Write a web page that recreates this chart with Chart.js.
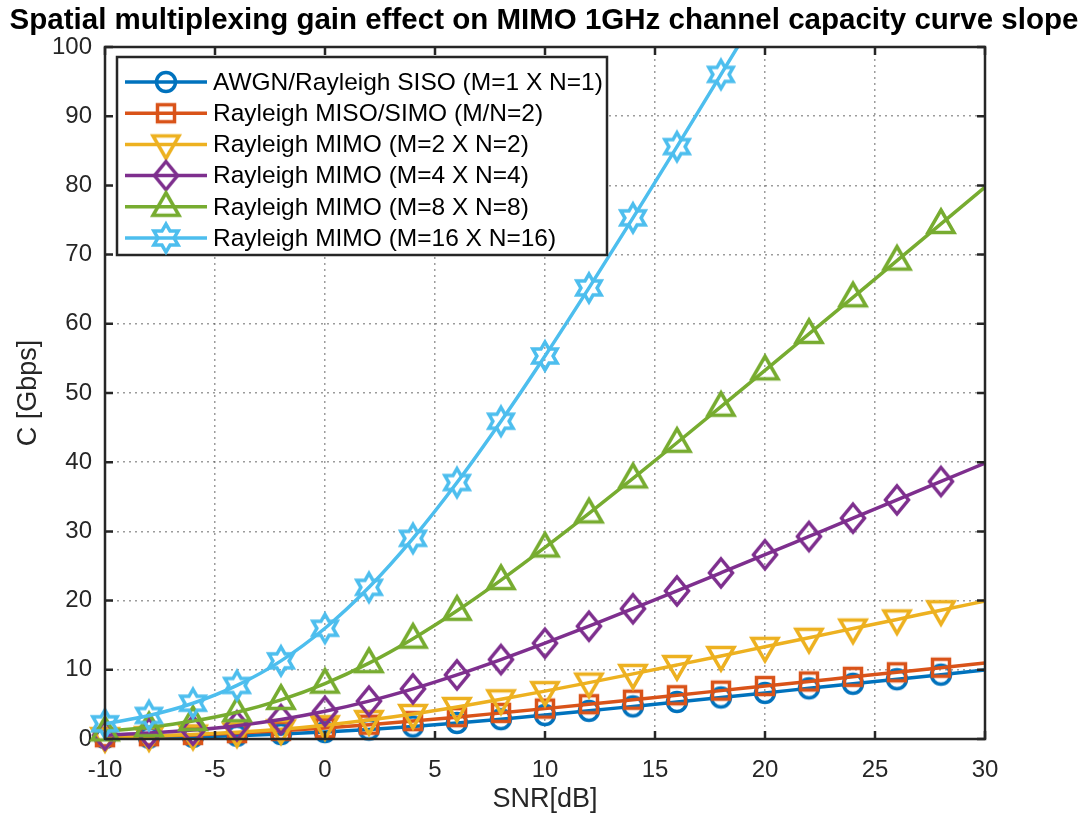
<!DOCTYPE html>
<html><head><meta charset="utf-8">
<script src="https://cdn.jsdelivr.net/npm/chart.js@4/dist/chart.umd.min.js"></script>
<style>html,body{margin:0;padding:0;background:#fff}canvas{display:block}</style>
</head><body>
<canvas id="c" width="1088" height="823"></canvas>
<script>
// ---- data ----
const snrDb = [-10,-8,-6,-4,-2,0,2,4,6,8,10,12,14,16,18,20,22,24,26,28,30];
const siso   = [0.14,0.21,0.32,0.48,0.71,1.00,1.37,1.81,2.32,2.87,3.46,4.07,4.71,5.35,6.00,6.66,7.32,7.98,8.64,9.30,9.97];
const misoSimo = [0.26,0.40,0.59,0.85,1.18,1.58,2.06,2.59,3.16,3.77,4.39,5.03,5.68,6.33,6.99,7.65,8.31,8.98,9.64,10.30,10.97];
const mimo2  = [0.28,0.42,0.65,0.97,1.41,2.00,2.74,3.62,4.63,5.74,6.92,8.15,9.41,10.70,12.00,13.32,14.63,15.96,17.28,18.61,19.93];
const mimo4  = [0.55,0.85,1.29,1.93,2.82,4.00,5.48,7.25,9.27,11.48,13.84,16.30,18.83,21.40,24.01,26.63,29.27,31.91,34.56,37.22,39.87];
const mimo8  = [1.10,1.70,2.59,3.87,5.65,8.00,10.96,14.50,18.53,22.96,27.68,32.60,37.66,42.81,48.02,53.27,58.54,63.83,69.13,74.43,79.74];
const mimo16 = [2.20,3.40,5.17,7.74,11.29,16.00,21.92,29.00,37.06,45.92,55.35,65.19,75.31,85.61,96.04,106.53];
const seriesNames = [
  'AWGN/Rayleigh SISO (M=1 X N=1)',
  'Rayleigh MISO/SIMO (M/N=2)',
  'Rayleigh MIMO (M=2 X N=2)',
  'Rayleigh MIMO (M=4 X N=4)',
  'Rayleigh MIMO (M=8 X N=8)',
  'Rayleigh MIMO (M=16 X N=16)'
];
const xTickValues = [-10,-5,0,5,10,15,20,25,30];
const yTickValues = [0,10,20,30,40,50,60,70,80,90,100];
const titleText = 'Spatial multiplexing gain effect on MIMO 1GHz channel capacity curve slope';
const xTitle = 'SNR[dB]';
const yTitle = 'C [Gbps]';

// ---- styles ----
const FONT = "'Liberation Sans', Arial, Helvetica, sans-serif";
const colors = ['#0072BD','#D95319','#EDB120','#7E2F8E','#77AC30','#4DBEEE'];
const shapes = ['circle','square','triDown','diamond','triUp','hexagram'];

function makeMarker(shape, color){
  const c = document.createElement('canvas');
  c.width = 40; c.height = 40;
  const g = c.getContext('2d');
  g.translate(20,20);
  g.strokeStyle = color; g.lineWidth = 3.5; g.lineJoin = 'miter';
  g.beginPath();
  if (shape==='circle') g.arc(0,0,9.5,0,Math.PI*2);
  else if (shape==='square') g.rect(-8.5,-8.5,17,17);
  else if (shape==='triDown'){ g.moveTo(-13,-8.5); g.lineTo(13,-8.5); g.lineTo(0,14); g.closePath(); }
  else if (shape==='triUp'){ g.moveTo(0,-14); g.lineTo(13,8.5); g.lineTo(-13,8.5); g.closePath(); }
  else if (shape==='diamond'){ g.moveTo(0,-14); g.lineTo(11.5,0); g.lineTo(0,14); g.lineTo(-11.5,0); g.closePath(); }
  else if (shape==='hexagram'){
    const R=14, r=14/Math.sqrt(3);
    for(let k=0;k<12;k++){ const ang=-Math.PI/2+k*Math.PI/6; const rr=k%2?r:R;
      const px=rr*Math.cos(ang), py=rr*Math.sin(ang); if(k===0) g.moveTo(px,py); else g.lineTo(px,py); }
    g.closePath();
  }
  g.stroke();
  return c;
}
const markers = shapes.map((s,i)=>makeMarker(s,colors[i]));

const allSeries = [siso, misoSimo, mimo2, mimo4, mimo8, mimo16];
const datasets = allSeries.map((vals,i)=>({
  label: seriesNames[i],
  data: vals.map((v,j)=>({x: snrDb[j], y: v})),
  borderColor: colors[i],
  backgroundColor: colors[i],
  borderWidth: 3.5,
  cubicInterpolationMode: 'monotone',
  pointStyle: markers[i],
  pointRadius: vals.map((v,j)=> (snrDb[j] >= 30 || v > 100) ? 0 : 10),
  pointHoverRadius: 10,
  clip: {left: 20, right: 20, bottom: 20, top: 0},
  order: 6 - i
}));

const boxPlugin = {
  id: 'boxAndLegend',
  afterDatasetsDraw(chart){
    const {ctx, chartArea: a, scales: {x, y}} = chart;
    ctx.save();
    ctx.strokeStyle = '#262626';
    ctx.lineWidth = 2.5;
    ctx.beginPath();
    xTickValues.forEach(v=>{ const px = x.getPixelForValue(v);
      ctx.moveTo(px, a.bottom); ctx.lineTo(px, a.bottom-8);
      ctx.moveTo(px, a.top); ctx.lineTo(px, a.top+8); });
    yTickValues.forEach(v=>{ const py = y.getPixelForValue(v);
      ctx.moveTo(a.left, py); ctx.lineTo(a.left+8, py);
      ctx.moveTo(a.right, py); ctx.lineTo(a.right-8, py); });
    ctx.stroke();
    ctx.strokeRect(a.left, a.top, a.right-a.left, a.bottom-a.top);

    // legend
    const lx = a.left + 12, ly = a.top + 10, lw = 490, lh = 198;
    ctx.fillStyle = '#fff';
    ctx.fillRect(lx, ly, lw, lh);
    ctx.lineWidth = 2.5; ctx.strokeStyle = '#262626';
    ctx.strokeRect(lx, ly, lw, lh);
    ctx.font = '24.5px ' + FONT;
    ctx.textBaseline = 'middle'; ctx.textAlign = 'left';
    seriesNames.forEach((name,i)=>{
      const ry = ly + 25 + i*31.2;
      ctx.strokeStyle = colors[i]; ctx.lineWidth = 3.5;
      ctx.beginPath(); ctx.moveTo(lx+8, ry); ctx.lineTo(lx+90, ry); ctx.stroke();
      const m = markers[i];
      ctx.drawImage(m, lx+49-m.width/2, ry-m.height/2);
      ctx.fillStyle = '#000';
      ctx.fillText(name, lx+96, ry+1);
    });
    ctx.restore();
  }
};

new Chart(document.getElementById('c'), {
  type: 'line',
  data: { datasets },
  options: {
    responsive: false,
    animation: false,
    layout: { padding: { left: 0, right: 0, top: 0, bottom: 0 } },
    plugins: {
      legend: { display: false },
      tooltip: { enabled: false },
      title: { display: true, text: titleText, color: '#000',
        font: { family: FONT, size: 29.5, weight: 'bold' },
        padding: { top: 3, bottom: 8.6 } }
    },
    scales: {
      x: {
        type: 'linear', min: -10, max: 30,
        afterFit: s => { s.height = 84; },
        ticks: { stepSize: 5, color: '#262626', padding: 17, font: { family: FONT, size: 24 } },
        grid: { color: 'rgba(90,90,90,0.6)', lineWidth: 1.5, drawTicks: false },
        border: { display: false, dash: [2,4] },
        title: { display: true, text: xTitle, color: '#262626', font: { family: FONT, size: 27 }, padding: { top: 0, bottom: 7 } }
      },
      y: {
        type: 'linear', min: 0, max: 100,
        afterFit: s => { s.width = 105; },
        ticks: { stepSize: 10, color: '#262626', padding: 13, font: { family: FONT, size: 24 } },
        grid: { color: 'rgba(90,90,90,0.6)', lineWidth: 1.5, drawTicks: false },
        border: { display: false, dash: [2,4] },
        title: { display: true, text: yTitle, color: '#262626', font: { family: FONT, size: 27 }, padding: { top: 12, bottom: 0 } }
      },
      yRight: {
        type: 'linear', position: 'right', min: 0, max: 100,
        afterFit: s => { s.width = 103; },
        ticks: { display: false },
        grid: { display: false, drawOnChartArea: false },
        border: { display: false }
      }
    }
  },
  plugins: [boxPlugin]
});
</script>
</body></html>
